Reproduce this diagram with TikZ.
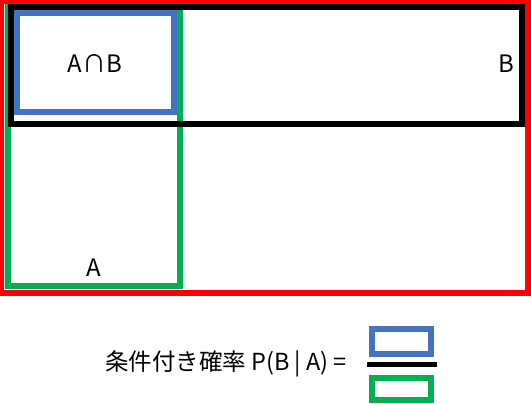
\documentclass[tikz,border=0pt]{standalone}
\usepackage{fontspec}
\setmainfont{Noto Sans CJK JP}
\usetikzlibrary{positioning}
\definecolor{setred}{RGB}{255,0,0}
\definecolor{setgreen}{RGB}{0,176,80}
\definecolor{setblue}{RGB}{68,114,196}

\begin{document}
\begin{tikzpicture}[x=1pt, y=-1pt, r/.style={line width=6pt}, l/.style={font=\fontsize{24}{28}\selectfont, inner sep=0pt, anchor=base}]
	\useasboundingbox (0,0) rectangle (531,404);
	% sets
	\draw[r, setred] (1,1) rectangle (528,293);
	\draw[r, setgreen] (8,7) rectangle (180,286);
	\draw[r, black, line width=6.5pt] (11,7) rectangle (522,124);
	\draw[r, setblue] (17,13) rectangle (174,112);
	\node[l] (AB) at (95,73) {A∩B};
	\node[l] (B) at (506,73) {B};
	\node[l] (A) at (94,276) {A};
	% formula
	\node[l, font=\fontsize{23.5}{27}\selectfont] (P) at (226,370) {条件付き確率 P(B | A) =};
	\draw[r, setblue] (372,329) rectangle (431,354);
	\draw[black, line width=5.5pt] (367,364.5) -- (437,364.5);
	\draw[r, setgreen] (372,378) rectangle (431,400);
\end{tikzpicture}
\end{document}
